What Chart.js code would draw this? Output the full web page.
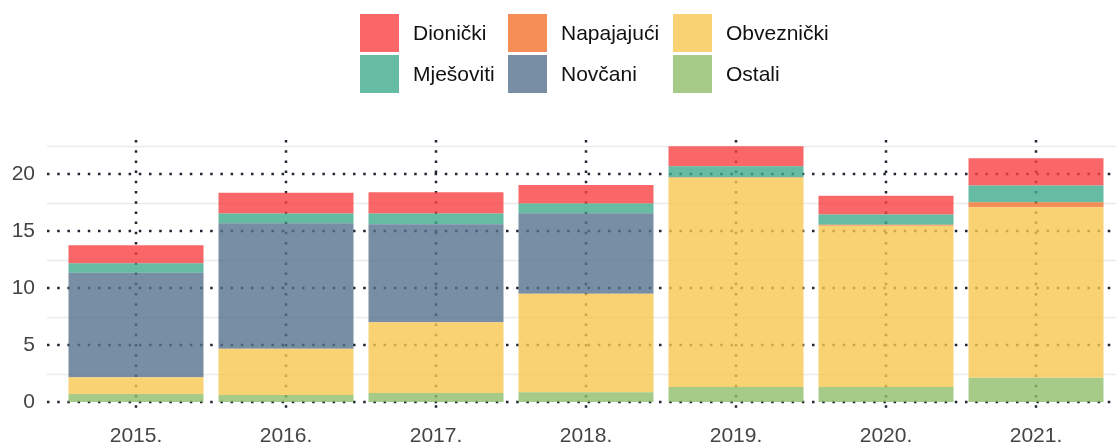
<!DOCTYPE html>
<html>
<head>
<meta charset="utf-8">
<script src="https://cdn.jsdelivr.net/npm/chart.js@4"></script>
<style>
  body { margin: 0; background: #fff; }
  #wrap { position: relative; width: 1116px; height: 443px; }
  #legend {
    position: absolute; left: 360px; top: 14px;
    display: grid; grid-template-columns: 148px 165px auto;
    row-gap: 3px;
    font-family: "Liberation Sans", Arial, sans-serif; font-size: 21px; color: #111;
  }
  .item { display: flex; align-items: center; height: 38px; white-space: nowrap; }
  .box { width: 39px; height: 38px; margin-right: 14px; flex: none; }
</style>
</head>
<body>
<div id="wrap">
  <canvas id="chart" width="1116" height="443"></canvas>
  <div id="legend"></div>
</div>
<script>
// Data (values, billions)
const years = ['2015.', '2016.', '2017.', '2018.', '2019.', '2020.', '2021.'];
const ostali     = [0.70, 0.61, 0.79, 0.85, 1.32, 1.32, 2.13];
const obveznicki = [1.47, 4.07, 6.20, 8.65, 18.36, 14.15, 14.97];
const novcani    = [9.18, 11.02, 8.62, 7.08, 0, 0, 0];
const napajajuci = [0, 0, 0, 0, 0.05, 0.08, 0.44];
const mjesoviti  = [0.82, 0.85, 0.94, 0.85, 0.97, 0.91, 1.46];
const dionicki   = [1.60, 1.81, 1.87, 1.61, 1.76, 1.64, 2.40];

const yTicks = [0, 5, 10, 15, 20];
const yMinor = [2.5, 7.5, 12.5, 17.5, 22.5];
const yMax = 23;

const colors = {
  'Dionički':   'rgba(249, 65, 66, 0.8)',
  'Napajajući': 'rgba(243, 115, 45, 0.8)',
  'Obveznički': 'rgba(248, 199, 80, 0.8)',
  'Mješoviti':  'rgba(64, 170, 140, 0.8)',
  'Novčani':    'rgba(86, 114, 141, 0.8)',
  'Ostali':     'rgba(144, 190, 107, 0.8)'
};

// stack order, bottom to top
const series = [
  ['Ostali', ostali],
  ['Obveznički', obveznicki],
  ['Novčani', novcani],
  ['Napajajući', napajajuci],
  ['Mješoviti', mjesoviti],
  ['Dionički', dionicki]
];
const legendOrder = ['Dionički', 'Napajajući', 'Obveznički', 'Mješoviti', 'Novčani', 'Ostali'];

// Legend as html, 3 columns
const legendEl = document.getElementById('legend');
legendOrder.forEach(name => {
  const item = document.createElement('div');
  item.className = 'item';
  item.innerHTML = `<span class="box" style="background:${colors[name]}"></span><span>${name}</span>`;
  legendEl.appendChild(item);
});

// Grid: light minor lines + dark dotted major lines, drawn under the bars
const dottedGrid = {
  id: 'dottedGrid',
  beforeDatasetsDraw(chart) {
    const { ctx, chartArea, scales: { x, y } } = chart;
    const left = chartArea.left - 14;
    const right = chart.width;
    ctx.save();
    ctx.strokeStyle = '#ebebeb';
    ctx.lineWidth = 1.5;
    yMinor.forEach(v => {
      const py = Math.round(y.getPixelForValue(v)) + 0.5;
      ctx.beginPath(); ctx.moveTo(left, py); ctx.lineTo(right, py); ctx.stroke();
    });
    ctx.strokeStyle = '#1f2533';
    ctx.lineWidth = 2.5;
    ctx.setLineDash([2.5, 7.7]);
    yTicks.forEach(v => {
      const py = Math.round(y.getPixelForValue(v));
      ctx.beginPath(); ctx.moveTo(left, py); ctx.lineTo(right, py); ctx.stroke();
    });
    years.forEach((_, i) => {
      const px = Math.round(x.getPixelForValue(i));
      ctx.beginPath();
      ctx.moveTo(px, chartArea.top);
      ctx.lineTo(px, chartArea.bottom + 13);
      ctx.stroke();
    });
    ctx.restore();
  }
};

const tickFont = { family: '"Liberation Sans", Arial, sans-serif', size: 21 };

new Chart(document.getElementById('chart'), {
  type: 'bar',
  data: {
    labels: years,
    datasets: series.map(([name, values]) => ({
      label: name,
      data: values,
      backgroundColor: colors[name],
      borderWidth: 0,
      barPercentage: 0.9,
      categoryPercentage: 1.0
    }))
  },
  options: {
    responsive: false,
    animation: false,
    layout: { padding: { top: 140, right: 5, left: 0, bottom: 0 } },
    plugins: {
      legend: { display: false },
      tooltip: { enabled: false }
    },
    scales: {
      x: {
        stacked: true,
        grid: { display: false, drawTicks: false },
        border: { display: false },
        ticks: { color: '#444', font: tickFont, padding: 22 },
        afterFit: s => { s.height = 41; }
      },
      y: {
        stacked: true,
        min: 0,
        max: yMax,
        grid: { display: false, drawTicks: false },
        border: { display: false },
        afterBuildTicks: s => { s.ticks = yTicks.map(v => ({ value: v })); },
        ticks: { color: '#444', font: tickFont, padding: 26 },
        afterFit: s => { s.width = 61; }
      }
    }
  },
  plugins: [dottedGrid]
});
</script>
</body>
</html>
